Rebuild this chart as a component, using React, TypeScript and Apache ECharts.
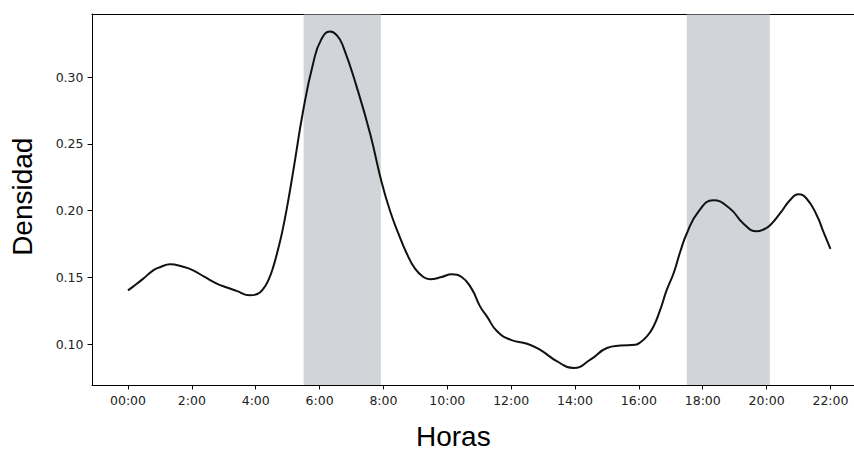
import React, { useEffect, useRef } from "react";
import * as echarts from "echarts";

const hours = [
  0, 0.17, 0.48, 0.79, 1.0, 1.32, 1.7, 2.04, 2.4, 2.78, 3.1, 3.4, 3.82, 4.05, 4.24, 4.4, 4.55, 4.7,
  4.83, 5.0, 5.18, 5.49, 5.8, 6.05, 6.33, 6.55, 6.74, 7.16, 7.58, 7.94, 8.2, 8.47, 8.73, 8.99, 9.25,
  9.46, 9.82, 10.14, 10.45, 10.76, 11.03, 11.24, 11.56, 11.97, 12.5, 12.9, 13.44, 13.96, 14.48,
  15.0, 15.42, 15.89, 16.03, 16.25, 16.45, 16.67, 16.87, 17.09, 17.3, 17.5, 17.86, 18.33, 18.85,
  19.27, 19.69, 19.9, 20.11, 20.42, 20.73, 20.99, 21.25, 21.57, 21.78, 22.0,
];
const density = [
  0.1402, 0.1432, 0.149, 0.1552, 0.1575, 0.1597, 0.158, 0.1552, 0.1502, 0.1453, 0.1423, 0.1398,
  0.1365, 0.1375, 0.1415, 0.148, 0.1578, 0.171, 0.184, 0.205, 0.2303, 0.2753, 0.3103, 0.328, 0.334,
  0.331, 0.3228, 0.2928, 0.2578, 0.2215, 0.2002, 0.1827, 0.1678, 0.1565, 0.1502, 0.1485, 0.1502,
  0.1522, 0.1502, 0.1415, 0.128, 0.1207, 0.1095, 0.1033, 0.1002, 0.0958, 0.087, 0.082, 0.0883,
  0.097, 0.0988, 0.0995, 0.101, 0.1057, 0.1127, 0.1258, 0.1403, 0.1532, 0.1695, 0.1828, 0.199,
  0.2077, 0.2015, 0.1903, 0.1845, 0.1858, 0.189, 0.1978, 0.2077, 0.2122, 0.209, 0.1965, 0.184,
  0.1712,
];

const xTickValues = [0, 2, 4, 6, 8, 10, 12, 14, 16, 18, 20, 22];
const xTickLabels = ["00:00", "2:00", "4:00", "6:00", "8:00", "10:00", "12:00", "14:00", "16:00", "18:00", "20:00", "22:00"];
const yTickValues = [0.1, 0.15, 0.2, 0.25, 0.3];
const yTickLabels = ["0.10", "0.15", "0.20", "0.25", "0.30"];

const shadedStart = [5.5, 17.5];
const shadedEnd = [7.92, 20.1];

const xTitle = "Horas";
const yTitle = "Densidad";

export default function App() {
  const ref = useRef<HTMLDivElement>(null);
  useEffect(() => {
    if (!ref.current) return;
    const chart = echarts.init(ref.current, undefined, { renderer: "svg" });
    const tickFont = { fontFamily: "DejaVu Sans", fontSize: 12.5, color: "#222" };
    const spine = { show: true, onZero: false, lineStyle: { color: "#000", width: 1 } };
    const xLabelFmt = (v: number) => {
      const i = xTickValues.indexOf(v);
      return i >= 0 ? xTickLabels[i] : "";
    };
    chart.setOption({
      animation: false,
      backgroundColor: "#fff",
      grid: {
        left: 92,
        top: 14,
        right: 0,
        height: 371,
        show: false,
      },
      xAxis: [
        {
          type: "value",
          min: -1.127,
          max: 22.737,
          position: "bottom",
          axisLine: spine,
          splitLine: { show: false },
          axisTick: {
            show: true,
            inside: false,
            length: 4.4,
            customValues: xTickValues,
            lineStyle: { color: "#000", width: 1 },
          },
          axisLabel: {
            ...tickFont,
            margin: 8.5,
            customValues: xTickValues,
            formatter: xLabelFmt,
          },
        },
        {
          type: "value",
          min: -1.127,
          max: 22.737,
          position: "top",
          axisLine: spine,
          splitLine: { show: false },
          axisTick: { show: false },
          axisLabel: { show: false },
        },
      ],
      yAxis: {
        type: "value",
        min: 0.0693,
        max: 0.3472,
        axisLine: spine,
        splitLine: { show: false },
        axisTick: {
          show: true,
          inside: false,
          length: 4.4,
          customValues: yTickValues,
          lineStyle: { color: "#000", width: 1 },
        },
        axisLabel: {
          ...tickFont,
          margin: 8.5,
          customValues: yTickValues,
          formatter: (v: number) => {
            let best = 0;
            for (let i = 0; i < yTickValues.length; i++) {
              if (Math.abs(yTickValues[i] - v) < Math.abs(yTickValues[best] - v)) best = i;
            }
            return yTickLabels[best];
          },
        },
      },
      series: [
        {
          type: "line",
          z: 2,
          xAxisIndex: 0,
          data: hours.map((h, i) => [h, density[i]]),
          showSymbol: false,
          symbol: "none",
          smooth: true,
          lineStyle: { color: "#111", width: 2 },
        },
        {
          type: "line",
          z: 5,
          xAxisIndex: 0,
          data: [],
          silent: true,
          markArea: {
            silent: true,
            itemStyle: { color: "rgba(168,174,182,0.53)" },
            data: shadedStart.map((s, i) => [{ xAxis: s }, { xAxis: shadedEnd[i] }]),
          },
        },
      ],
      graphic: [
        {
          type: "text",
          x: 453.3,
          y: 436,
          style: {
            text: xTitle,
            font: '28px "Liberation Sans", Arial, sans-serif',
            fill: "#000",
            textAlign: "center",
            textVerticalAlign: "middle",
          },
        },
        {
          type: "text",
          x: 22.7,
          y: 196.7,
          rotation: Math.PI / 2,
          style: {
            text: yTitle,
            font: '28px "Liberation Sans", Arial, sans-serif',
            fill: "#000",
            textAlign: "center",
            textVerticalAlign: "middle",
          },
        },
      ],
    });
    return () => chart.dispose();
  }, []);
  return (
    <div
      ref={ref}
      style={{ position: "fixed", left: 0, top: 0, width: 854, height: 452, overflow: "hidden" }}
    />
  );
}
